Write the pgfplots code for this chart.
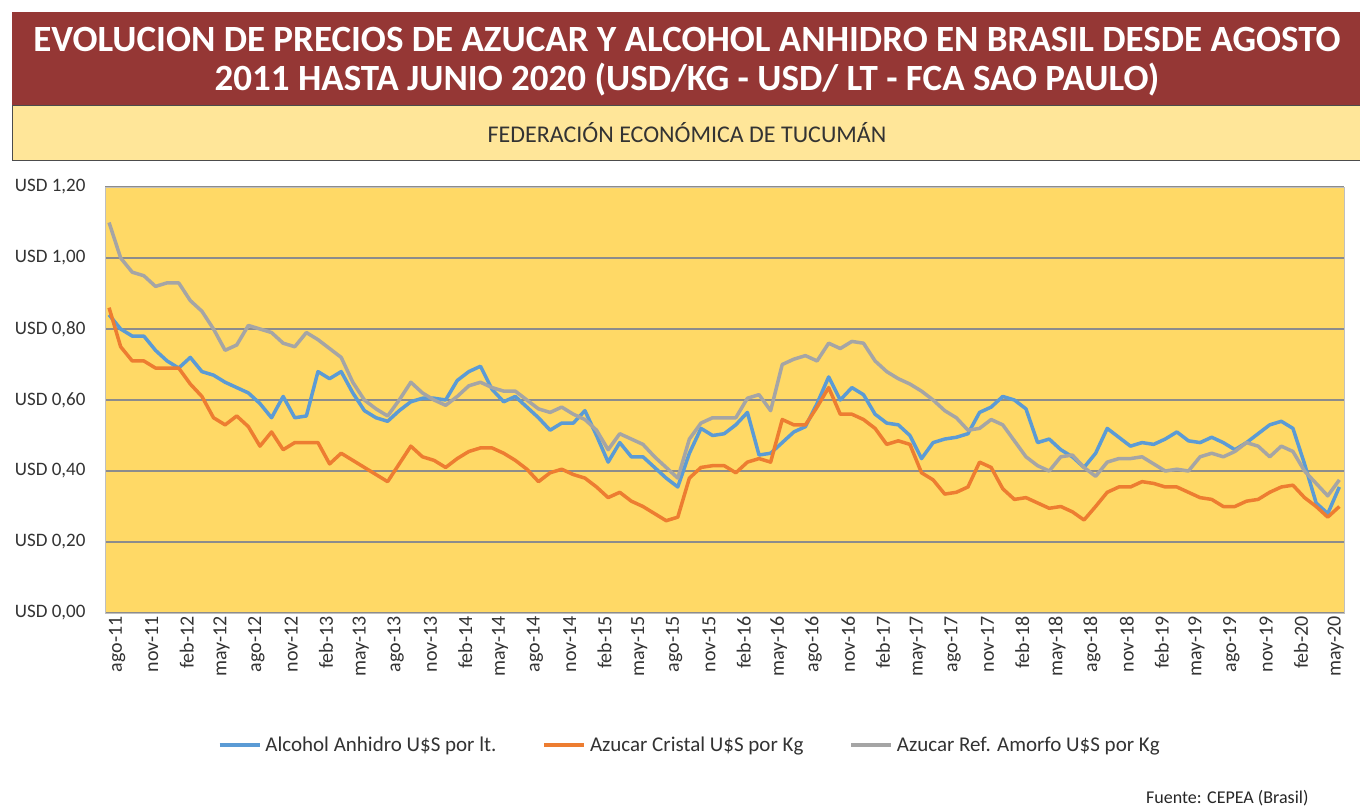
\documentclass[border=0pt]{standalone}
\usepackage{pgfplots}
\pgfplotsset{compat=1.18}
\usepackage{pgfplotstable}
\usepackage{fontspec}
\setmainfont{Carlito}

\definecolor{titlered}{HTML}{953735}
\definecolor{bandyel}{HTML}{FFE699}
\definecolor{plotyel}{HTML}{FFD966}
\definecolor{cblue}{HTML}{5B9BD5}
\definecolor{corange}{HTML}{ED7D31}
\definecolor{cgray}{HTML}{A5A5A5}

% monthly prices, ago-11 (0) to jun-20 (106)
\pgfplotstableread{
i alc cri amo
0 0.84 0.86 1.10
1 0.80 0.75 1.00
2 0.78 0.71 0.96
3 0.78 0.71 0.95
4 0.74 0.69 0.92
5 0.71 0.69 0.93
6 0.69 0.69 0.93
7 0.72 0.645 0.88
8 0.68 0.61 0.85
9 0.67 0.55 0.80
10 0.65 0.53 0.74
11 0.635 0.555 0.755
12 0.62 0.525 0.81
13 0.59 0.47 0.80
14 0.55 0.51 0.79
15 0.61 0.46 0.76
16 0.55 0.48 0.75
17 0.555 0.48 0.79
18 0.68 0.48 0.77
19 0.66 0.42 0.745
20 0.68 0.45 0.72
21 0.62 0.43 0.65
22 0.57 0.41 0.60
23 0.55 0.39 0.575
24 0.54 0.37 0.555
25 0.57 0.42 0.60
26 0.595 0.47 0.65
27 0.605 0.44 0.62
28 0.605 0.43 0.60
29 0.60 0.41 0.585
30 0.655 0.435 0.61
31 0.68 0.455 0.64
32 0.695 0.465 0.65
33 0.63 0.465 0.635
34 0.595 0.45 0.625
35 0.61 0.43 0.625
36 0.58 0.405 0.60
37 0.55 0.37 0.575
38 0.515 0.395 0.565
39 0.535 0.405 0.58
40 0.535 0.39 0.56
41 0.57 0.38 0.545
42 0.50 0.355 0.515
43 0.425 0.325 0.46
44 0.48 0.34 0.505
45 0.44 0.315 0.49
46 0.44 0.30 0.475
47 0.41 0.28 0.44
48 0.38 0.26 0.41
49 0.355 0.27 0.38
50 0.45 0.38 0.49
51 0.52 0.41 0.535
52 0.50 0.415 0.55
53 0.505 0.415 0.55
54 0.53 0.395 0.55
55 0.565 0.425 0.605
56 0.445 0.435 0.615
57 0.45 0.425 0.57
58 0.48 0.545 0.70
59 0.51 0.53 0.715
60 0.525 0.53 0.725
61 0.59 0.58 0.71
62 0.665 0.635 0.76
63 0.60 0.56 0.745
64 0.635 0.56 0.765
65 0.615 0.545 0.76
66 0.56 0.52 0.71
67 0.535 0.475 0.68
68 0.53 0.485 0.66
69 0.50 0.475 0.645
70 0.435 0.395 0.625
71 0.48 0.375 0.60
72 0.49 0.335 0.57
73 0.495 0.34 0.55
74 0.505 0.355 0.515
75 0.565 0.425 0.52
76 0.58 0.41 0.545
77 0.61 0.35 0.53
78 0.60 0.32 0.485
79 0.575 0.325 0.44
80 0.48 0.31 0.415
81 0.49 0.295 0.40
82 0.46 0.30 0.44
83 0.44 0.285 0.445
84 0.41 0.262 0.41
85 0.45 0.30 0.385
86 0.52 0.34 0.425
87 0.495 0.355 0.435
88 0.47 0.355 0.435
89 0.48 0.37 0.44
90 0.475 0.365 0.42
91 0.49 0.355 0.40
92 0.51 0.355 0.405
93 0.485 0.34 0.40
94 0.48 0.325 0.44
95 0.495 0.32 0.45
96 0.48 0.30 0.44
97 0.46 0.30 0.455
98 0.48 0.315 0.48
99 0.505 0.32 0.47
100 0.53 0.34 0.44
101 0.54 0.355 0.47
102 0.52 0.36 0.455
103 0.42 0.325 0.40
104 0.31 0.30 0.365
105 0.28 0.27 0.33
106 0.355 0.30 0.375
}\prices

\begin{document}
\begin{tikzpicture}
\path[use as bounding box, fill=white] (0,0) rectangle (1360pt,807pt);
% title bands
\fill[titlered] (12pt,702pt) rectangle (1360pt,795pt);
\filldraw[fill=bandyel, draw=black!70, line width=0.8pt] (12pt,647pt) rectangle (1360pt,702pt);
\node[text=white, font=\fontsize{37}{42}\selectfont\bfseries] at (687pt,767pt)
  {EVOLUCION DE PRECIOS DE AZUCAR Y ALCOHOL ANHIDRO EN BRASIL DESDE AGOSTO};
\node[text=white, font=\fontsize{37}{42}\selectfont\bfseries] at (687pt,727pt)
  {2011 HASTA JUNIO 2020 (USD/KG - USD/ LT - FCA SAO PAULO)};
\node[text=black!80, font=\fontsize{24}{28}\selectfont] at (687pt,674pt)
  {FEDERACIÓN ECONÓMICA DE TUCUMÁN};

\begin{axis}[
  at={(105pt,194pt)}, anchor=south west,
  width=1239pt, height=426pt, scale only axis,
  xmin=-0.35, xmax=106.4, ymin=0, ymax=1.2,
  axis background/.style={fill=plotyel},
  axis line style={draw=black!25, line width=1pt},
  ymajorgrids, grid style={draw=cgray!85!black, line width=1.5pt},
  major tick length=0pt,
  ytick={0,0.2,0.4,0.6,0.8,1.0,1.2},
  yticklabels={{USD 0,00},{USD 0,20},{USD 0,40},{USD 0,60},{USD 0,80},{USD 1,00},{USD 1,20}},
  yticklabel style={font=\fontsize{19}{22}\selectfont, text=black!80, xshift=-16pt},
  xtick={0,3,...,105},
  xticklabels={ago-11,nov-11,feb-12,may-12,ago-12,nov-12,feb-13,may-13,ago-13,nov-13,
    feb-14,may-14,ago-14,nov-14,feb-15,may-15,ago-15,nov-15,feb-16,may-16,ago-16,nov-16,
    feb-17,may-17,ago-17,nov-17,feb-18,may-18,ago-18,nov-18,feb-19,may-19,ago-19,nov-19,
    feb-20,may-20},
  xticklabel style={font=\fontsize{20}{22}\selectfont, text=black!80, rotate=90, anchor=east, yshift=-8pt},
  legend style={at={(0.472,-0.31)}, anchor=center, draw=none, fill=none,
    font=\fontsize{21}{24}\selectfont, text=black!80,
    /tikz/every odd column/.append style={column sep=2pt},
    /tikz/every even column/.append style={column sep=44pt}},
  legend columns=3,
  legend image code/.code={\draw[#1, line width=3.5pt] (0pt,0pt) -- (40pt,0pt);},
  every axis plot/.append style={line width=3.5pt, line join=round, mark=none},
]
\addplot[cblue] table[x=i, y=alc] {\prices};
\addlegendentry{Alcohol Anhidro U\$S por lt.}
\addplot[corange] table[x=i, y=cri] {\prices};
\addlegendentry{Azucar Cristal U\$S por Kg}
\addplot[cgray] table[x=i, y=amo] {\prices};
\addlegendentry{Azucar Ref. Amorfo U\$S por Kg}
\end{axis}

\node[anchor=east, font=\fontsize{18}{21}\selectfont, text=black!85] at (1312pt,9pt) {Fuente: CEPEA (Brasil)};
\end{tikzpicture}
\end{document}
